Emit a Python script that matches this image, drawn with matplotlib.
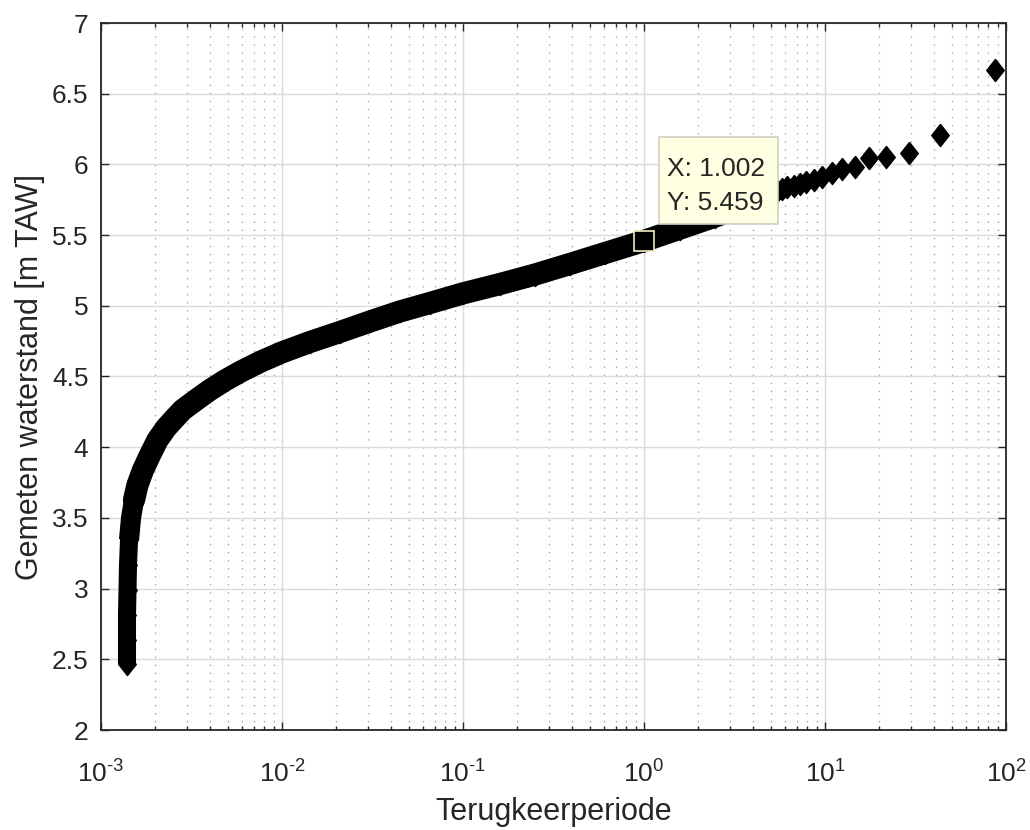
import matplotlib
matplotlib.use("Agg")
import numpy as np
import matplotlib.pyplot as plt
from matplotlib.patches import Rectangle
from matplotlib.transforms import IdentityTransform
from matplotlib.ticker import LogLocator, NullFormatter, FixedLocator, FuncFormatter

band_T = [1.392e-3, 1.392e-3, 1.392e-3, 1.401e-3, 1.410e-3, 1.428e-3, 1.465e-3,
          1.522e-3, 1.591e-3, 1.707e-3, 1.866e-3, 2.052e-3, 2.286e-3, 2.531e-3,
          2.820e-3, 3.349e-3, 4.002e-3, 4.842e-3, 5.861e-3, 7.557e-3, 9.96e-3,
          1.428e-2, 2.092e-2, 3.064e-2, 4.487e-2, 6.572e-2, 0.1, 0.1601,
          0.2499, 0.3901, 0.6088, 1.002, 1.581, 2.469, 3.853, 4.663]
band_h = [2.467, 2.636, 2.813, 2.990, 3.167, 3.344, 3.499,
          3.627, 3.733, 3.839, 3.945, 4.051, 4.136, 4.199,
          4.263, 4.334, 4.405, 4.472, 4.532, 4.603, 4.670,
          4.744, 4.815, 4.889, 4.960, 5.020, 5.088, 5.154,
          5.221, 5.296, 5.373, 5.459, 5.546, 5.631, 5.720, 5.769]

# the largest events, visible as single diamonds
tail_T = [86.9, 43.2, 29.1, 21.7, 17.5, 14.6, 12.4, 10.9, 9.67, 8.7,
          7.9, 7.25, 6.7, 6.2, 5.8, 5.44, 5.12]
tail_h = [6.668, 6.208, 6.078, 6.050, 6.043, 5.984, 5.970, 5.937, 5.913, 5.890,
          5.878, 5.860, 5.850, 5.838, 5.826, 5.812, 5.795]

tip_T, tip_h = 1.002, 5.459
y_ticks = [2, 2.5, 3, 3.5, 4, 4.5, 5, 5.5, 6, 6.5, 7]

plt.rcParams['font.family'] = ['Liberation Sans', 'DejaVu Sans']
plt.rcParams['mathtext.fontset'] = 'custom'
plt.rcParams['mathtext.rm'] = 'Liberation Sans'
plt.rcParams['axes.unicode_minus'] = False

txt = '#262626'
diamond = [(0, 1), (0.79, 0), (0, -1), (-0.79, 0), (0, 1)]

fig = plt.figure(figsize=(10.3, 8.3), dpi=100)
ax = fig.add_axes([101 / 1030, 100 / 830, 905 / 1030, 707 / 830])

ax.set_xscale('log')
ax.set_xlim(1e-3, 1e2)
ax.set_ylim(2, 7)

# dense part of the point cloud: narrow where it runs straight up, wider along the bend
k = 7
ax.plot(band_T[:k], band_h[:k], color='k', lw=13, solid_joinstyle='round',
        solid_capstyle='butt', marker=diamond, ms=16, mew=1, zorder=3)
ax.plot(band_T[k - 2:k + 2], band_h[k - 2:k + 2], color='k', lw=14.5,
        solid_joinstyle='round', solid_capstyle='butt', zorder=3)
ax.plot(band_T[k:], band_h[k:], color='k', lw=16, solid_joinstyle='round',
        solid_capstyle='round', marker=diamond, ms=16, mew=1, zorder=3)
ax.plot(tail_T, tail_h, ls='none', color='k', marker=diamond, ms=16, mew=1, zorder=3)

# data tip: marker plus a yellow box placed in pixels next to it
ax.plot(tip_T, tip_h, ls='none', marker='s', ms=14, mfc='k', mec='#F2EDC2', mew=1.2, zorder=5)
px, py = ax.transData.transform((tip_T, tip_h))
box = Rectangle((px + 15, py + 16.5), 119, 87, transform=IdentityTransform(),
                fc='#FFFFE1', ec='#CFCFC4', lw=1.2, zorder=6)
fig.add_artist(box)
fig.text(px + 23, py + 55, f'X: {tip_T:.3f}\nY: {tip_h:.3f}', transform=IdentityTransform(),
         ha='left', va='center', fontsize=19, color=txt, linespacing=1.5, zorder=7)

ax.xaxis.set_major_locator(LogLocator(base=10, numticks=10))
ax.xaxis.set_major_formatter(FuncFormatter(
    lambda v, p: '$\\mathregular{10^{%s}}$' % str(int(round(np.log10(v)))).replace('-', '\u2010')))
ax.xaxis.set_minor_locator(LogLocator(base=10, subs=np.arange(2, 10), numticks=20))
ax.xaxis.set_minor_formatter(NullFormatter())
ax.yaxis.set_major_locator(FixedLocator(y_ticks))
ax.yaxis.set_major_formatter(FuncFormatter(lambda v, p: f'{v:g}'))

ax.set_axisbelow(True)
ax.grid(True, which='major', color='#DADADA', lw=1.0, ls='-')
ax.grid(True, which='minor', axis='x', color='#A8A8A8', lw=1.0, ls=(0, (1, 4.8)))

for s in ax.spines.values():
    s.set_color(txt)
    s.set_linewidth(1.3)
ax.tick_params(which='both', direction='in', top=True, right=True, color=txt,
               labelcolor=txt, labelsize=19, width=1.0)
ax.tick_params(which='major', length=5.5)
ax.tick_params(which='minor', length=3)
ax.tick_params(axis='x', pad=22)
ax.tick_params(axis='y', pad=9)

ax.set_xlabel('Terugkeerperiode', fontsize=22, color=txt, va='center')
ax.set_ylabel('Gemeten waterstand [m TAW]', fontsize=22, color=txt, va='center')
ax.xaxis.set_label_coords(0.5, -0.116)
ax.yaxis.set_label_coords(-0.079, 0.5)

fig.savefig('out.png', dpi=100, facecolor='white')
